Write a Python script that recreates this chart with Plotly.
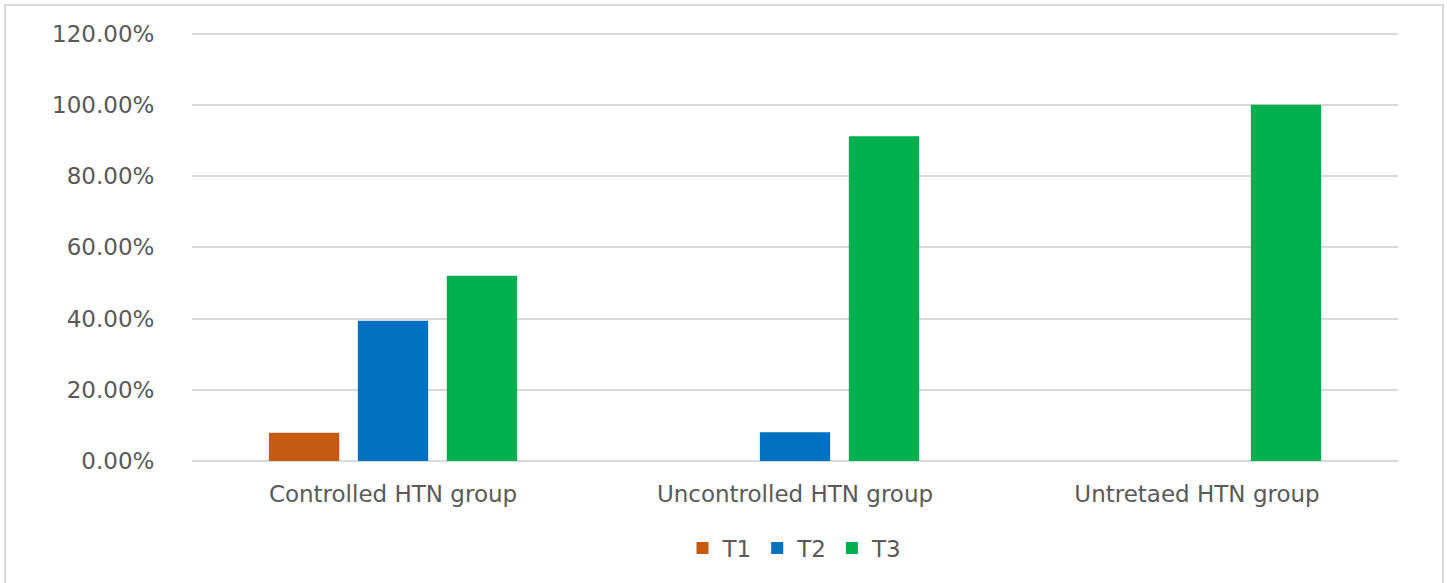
import plotly.graph_objects as go

categories = ["Controlled HTN group", "Uncontrolled HTN group", "Untretaed HTN group"]
series_names = ["T1", "T2", "T3"]
t1 = [0.079, 0.0, 0.0]
t2 = [0.394, 0.081, 0.0]
t3 = [0.520, 0.912, 1.0]
colors = ["#C55A11", "#0070C0", "#00B050"]
ytick_vals = [0, 0.2, 0.4, 0.6, 0.8, 1.0, 1.2]

W, H = 1447, 583
L, R, T, B = 192, 49, 30, 122

fig = go.Figure()
for name, vals, col in zip(series_names, [t1, t2, t3], colors):
    fig.add_trace(go.Bar(x=categories, y=vals, name=name, marker=dict(color=col, line=dict(width=0))))

gray = "#595959"
font_family = "DejaVu Sans"
fs = 23
pw = W - L - R
ph = H - T - B
fig.update_layout(
    width=W, height=H,
    margin=dict(l=L, r=R, t=T, b=B, pad=0),
    paper_bgcolor="white", plot_bgcolor="white",
    barmode="group", bargap=0.336, bargroupgap=0.21,
    font=dict(family=font_family, size=fs, color=gray),
    xaxis=dict(showgrid=False, showline=False, zeroline=False, ticks="outside", ticklen=12,
               tickcolor="rgba(0,0,0,0)", tickfont=dict(size=fs, color=gray)),
    yaxis=dict(range=[0, 1.21], tickvals=ytick_vals, tickformat=".2%", showgrid=True,
               gridcolor="#D9D9D9", gridwidth=1.5, zeroline=True, zerolinecolor="#D9D9D9",
               zerolinewidth=1.5, showline=False, ticks="outside", ticklen=32,
               tickcolor="rgba(0,0,0,0)", tickfont=dict(size=fs, color=gray)),
    legend=dict(orientation="h", x=0.5, xanchor="center", y=(461 - 548) / ph,
                yanchor="middle", font=dict(size=fs, color=gray), itemwidth=30,
                traceorder="normal"),
    showlegend=True,
)
fig.add_shape(type="rect", xref="paper", yref="paper",
              x0=(5 - L) / pw, x1=(1443 - L) / pw,
              y0=(461 - 600) / ph, y1=(461 - 5) / ph,
              line=dict(color="#D9D9D9", width=2), fillcolor="rgba(0,0,0,0)", layer="below")
fig.write_html("out.html", config={"displayModeBar": False},
               post_script="document.body.style.margin='0px';")
